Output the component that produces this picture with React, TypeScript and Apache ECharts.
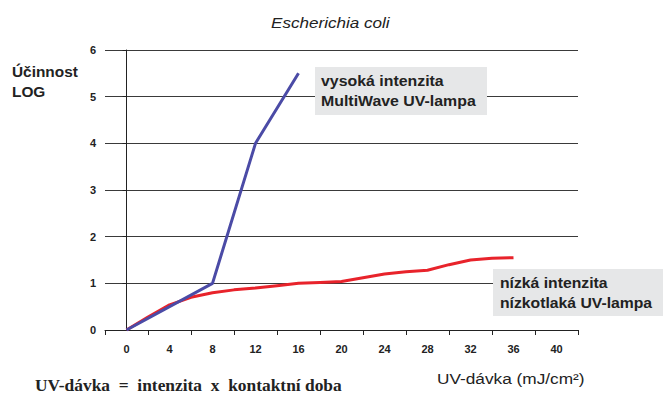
import React, { useEffect, useRef } from "react";
import * as echarts from "echarts";

const titleText = "Escherichia coli";
const yTitle = "Účinnost\nLOG";
const xTitle = "UV-dávka (mJ/cm²)";
const formulaText = "UV-dávka  =  intenzita  x  kontaktní doba";
const highLabel = "vysoká intenzita\nMultiWave UV-lampa";
const lowLabel = "nízká intenzita\nnízkotlaká UV-lampa";

const xTickValues = [-2, 2, 6, 10, 14, 18, 22, 26, 30, 34, 38, 42];
const xLabelValues = [0, 4, 8, 12, 16, 20, 24, 28, 32, 36, 40];

const highDose = [0, 8, 12, 16];
const highLog = [0, 1, 4, 5.5];

const lowDose = [0, 2, 4, 6, 8, 10, 12, 14, 16, 18, 20, 22, 24, 26, 28, 30, 32, 34, 36];
const lowLog = [0, 0.28, 0.54, 0.7, 0.8, 0.86, 0.9, 0.95, 1.0, 1.02, 1.04, 1.12, 1.2, 1.25, 1.28, 1.4, 1.5, 1.54, 1.55];

export default function App() {
  const ref = useRef<HTMLDivElement>(null);
  useEffect(() => {
    const chart = echarts.init(ref.current!, null, { renderer: "svg" });
    const font = "Arial, 'Liberation Sans', sans-serif";
    chart.setOption({
      animation: false,
      backgroundColor: "#ffffff",
      grid: { left: 105, right: 91, top: 50, bottom: 73, containLabel: false },
      xAxis: {
        type: "value",
        min: -2,
        max: 42,
        axisLine: { show: true, lineStyle: { color: "#222", width: 1 } },
        axisTick: { show: true, customValues: xTickValues, length: 5, inside: false, lineStyle: { color: "#222" } },
        axisLabel: {
          customValues: xLabelValues,
          color: "#222",
          fontFamily: font,
          fontWeight: "bold",
          fontSize: 11,
          margin: 13,
        },
        splitLine: { show: false },
      },
      yAxis: {
        type: "value",
        min: 0,
        max: 6,
        interval: 1,
        axisLine: { show: true, lineStyle: { color: "#222", width: 1 } },
        axisTick: { show: true, length: 4, lineStyle: { color: "#222" } },
        axisLabel: {
          color: "#222",
          fontFamily: font,
          fontWeight: "bold",
          fontSize: 11,
          margin: 9,
        },
        splitLine: { show: true, lineStyle: { color: "#3a3a3a", width: 1 } },
      },
      series: [
        {
          type: "line",
          data: lowDose.map((d, i) => [d, lowLog[i]]),
          showSymbol: false,
          symbol: "none",
          lineStyle: { color: "#e8232b", width: 3 },
          z: 3,
        },
        {
          type: "line",
          data: highDose.map((d, i) => [d, highLog[i]]),
          showSymbol: false,
          symbol: "none",
          lineStyle: { color: "#4b4ba6", width: 3 },
          z: 4,
        },
      ],
      graphic: [
        {
          type: "text",
          x: 271,
          y: 23,
          scaleX: 1.22,
          style: {
            text: titleText,
            verticalAlign: "middle",
            fontFamily: font,
            fontStyle: "italic",
            fontSize: 14,
            fill: "#222",
          },
        },
        {
          type: "text",
          x: 12,
          y: 62,
          scaleX: 1.1,
          style: {
            text: yTitle,
            fontFamily: font,
            fontWeight: "bold",
            fontSize: 14,
            lineHeight: 20,
            fill: "#222",
          },
        },
        {
          type: "text",
          x: 437,
          y: 378,
          scaleX: 1.15,
          style: {
            text: xTitle,
            verticalAlign: "middle",
            fontFamily: font,
            fontSize: 15,
            fill: "#222",
          },
        },
        {
          type: "text",
          x: 35,
          y: 376,
          style: {
            text: formulaText,
            fontFamily: "'Liberation Serif', 'Times New Roman', serif",
            fontWeight: "bold",
            fontSize: 17.4,
            fill: "#222",
          },
        },
        {
          type: "rect",
          shape: { x: 315, y: 67, width: 172, height: 48 },
          style: { fill: "#e6e7e8" },
          z: 10,
        },
        {
          type: "text",
          x: 321,
          y: 71,
          z: 11,
          scaleX: 1.06,
          style: {
            text: highLabel,
            fontFamily: font,
            fontWeight: "bold",
            fontSize: 15,
            lineHeight: 20,
            fill: "#222",
          },
        },
        {
          type: "rect",
          shape: { x: 493, y: 269, width: 170, height: 47 },
          style: { fill: "#e6e7e8" },
          z: 10,
        },
        {
          type: "text",
          x: 500,
          y: 273,
          z: 11,
          scaleX: 1.05,
          style: {
            text: lowLabel,
            fontFamily: font,
            fontWeight: "bold",
            fontSize: 15,
            lineHeight: 20,
            fill: "#222",
          },
        },
      ],
    });
    return () => chart.dispose();
  }, []);
  return <div ref={ref} style={{ width: 669, height: 403, position: "absolute", left: 0, top: 0 }} />;
}
